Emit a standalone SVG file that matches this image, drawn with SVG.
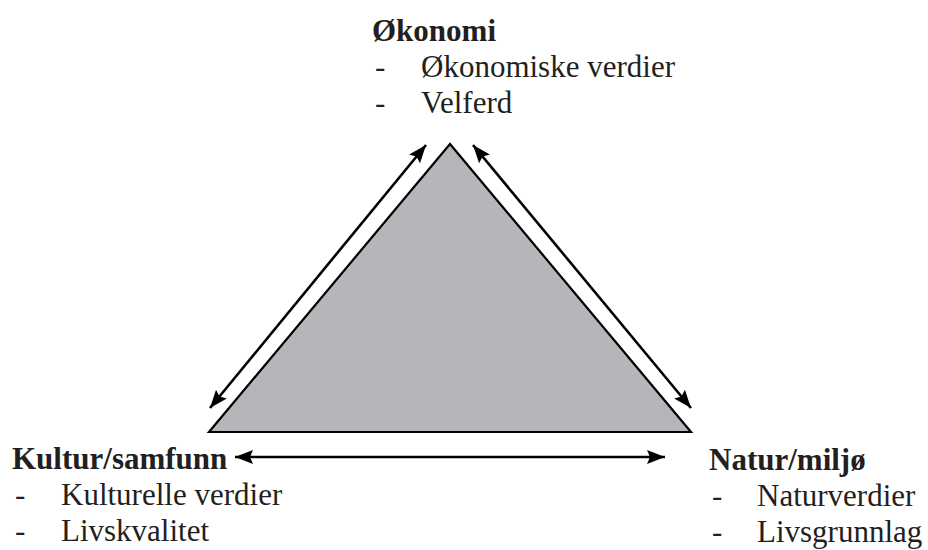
<svg xmlns="http://www.w3.org/2000/svg" width="928" height="550" viewBox="0 0 928 550">
<style>
text{font-family:"Liberation Serif","Times New Roman",serif;font-size:31px;fill:#231f20}
.h{font-weight:bold}
.c{stroke:#000;stroke-width:2.6;fill:none}
</style>
<defs>
<marker id="ah" markerUnits="userSpaceOnUse" markerWidth="20" markerHeight="16" viewBox="0 0 20 16" refX="18" refY="8" orient="auto-start-reverse">
<path d="M0,1 L18,8 L0,15 L3,8 Z" fill="#000"/>
</marker>
</defs>
<rect width="928" height="550" fill="#fff"/>
<g id="triangle">
<polygon points="450,144 209,432 691,432" fill="#b5b6b9" stroke="#000" stroke-width="2.2" stroke-linejoin="miter"/>
</g>
<g id="connectors">
<line class="c" x1="426" y1="145" x2="210" y2="408" marker-start="url(#ah)" marker-end="url(#ah)"/>
<line class="c" x1="473" y1="145" x2="691" y2="408" marker-start="url(#ah)" marker-end="url(#ah)"/>
<line class="c" x1="235" y1="457" x2="665" y2="457" marker-start="url(#ah)" marker-end="url(#ah)"/>
</g>
<g id="okonomi">
<text class="h" x="372" y="41">Økonomi</text>
<text x="375" y="77">-</text><text x="421" y="77">Økonomiske verdier</text>
<text x="375" y="113">-</text><text x="421" y="113">Velferd</text>
</g>
<g id="kultur">
<text class="h" x="12" y="469">Kultur/samfunn</text>
<text x="15" y="505">-</text><text x="61" y="505">Kulturelle verdier</text>
<text x="15" y="541">-</text><text x="61" y="541">Livskvalitet</text>
</g>
<g id="natur">
<text class="h" x="709" y="470">Natur/miljø</text>
<text x="712" y="506">-</text><text x="757" y="506">Naturverdier</text>
<text x="712" y="542">-</text><text x="757" y="542">Livsgrunnlag</text>
</g>
</svg>
